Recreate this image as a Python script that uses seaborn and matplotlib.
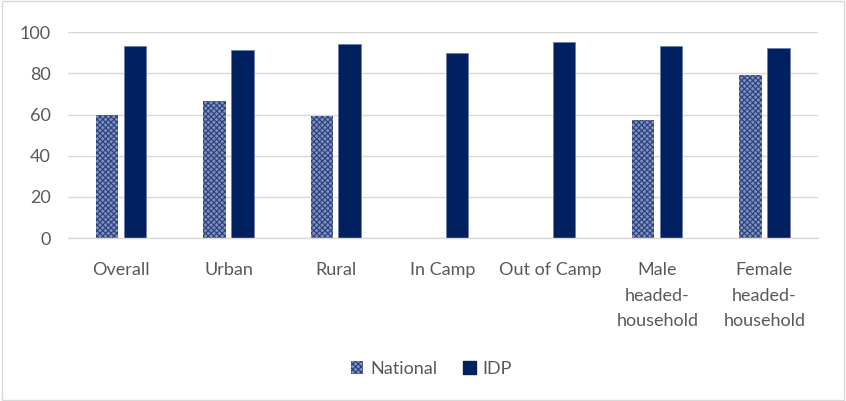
import matplotlib
matplotlib.use("Agg")
import matplotlib.pyplot as plt
import seaborn as sns
import pandas as pd
import numpy as np
from matplotlib.patches import Rectangle

categories = ["Overall", "Urban", "Rural", "In Camp", "Out of Camp",
              "Male\nheaded-\nhousehold", "Female\nheaded-\nhousehold"]
national = [60, 66.7, 59.3, np.nan, np.nan, 57.3, 79.2]
idp = [93.4, 91.5, 94.3, 90, 95.2, 93.2, 92.1]
series = ["National", "IDP"]

df = pd.DataFrame({
    "category": categories * 2,
    "value": national + idp,
    "series": ["National"] * len(categories) + ["IDP"] * len(categories),
})

sns.set_theme(style="white")
plt.rcParams["font.family"] = ["Lato", "DejaVu Sans"]
plt.rcParams["hatch.linewidth"] = 0.8

fig = plt.figure(figsize=(8.46, 4.01), dpi=100)
ax = fig.add_axes([0.080, 0.406, 0.887, 0.514])

navy = "#002060"
nat_face = "#7f8fb8"
sns.barplot(data=df, x="category", y="value", hue="series", order=categories,
            hue_order=series, palette=[nat_face, navy], width=0.52, gap=0.2,
            ax=ax, legend=False, saturation=1)

for p in ax.patches:
    fc = p.get_facecolor()
    if abs(fc[0] - matplotlib.colors.to_rgb(nat_face)[0]) < 0.02:
        p.set_hatch("xxxxxx")
        p.set_edgecolor("#2a4180")
        p.set_linewidth(0)
    else:
        p.set_edgecolor("#6f7fa8")
        p.set_linewidth(0.6)

ax.set_ylim(0, 100)
ax.set_yticks([0, 20, 40, 60, 80, 100])
ax.grid(axis="y", color="#d9d9d9", linewidth=1)
ax.set_axisbelow(True)
for s in ["top", "right", "left"]:
    ax.spines[s].set_visible(False)
ax.spines["bottom"].set_color("#d9d9d9")
ax.spines["bottom"].set_linewidth(1)
ax.set_xlabel("")
ax.set_ylabel("")
ax.tick_params(axis="both", length=0, labelsize=13, colors="#595959")
ax.tick_params(axis="x", pad=17)
ax.tick_params(axis="y", pad=12)
for t in ax.get_xticklabels():
    t.set_linespacing(1.75)
ax.set_xlim(-0.5, len(categories) - 0.5)

h1 = Rectangle((0, 0), 1, 1, facecolor=nat_face, hatch="xxxxxx", edgecolor="#2a4180", linewidth=0)
h2 = Rectangle((0, 0), 1, 1, facecolor=navy, edgecolor=navy)
fig.legend([h1, h2], series, loc="center", bbox_to_anchor=(0.51, 0.08), ncol=2,
           frameon=False, fontsize=13, handlelength=0.7, handleheight=0.7,
           handletextpad=0.4, columnspacing=1.4, labelcolor="#595959")

fig.add_artist(Rectangle((0.002, 0.003), 0.996, 0.994, transform=fig.transFigure,
                         fill=False, edgecolor="#d9d9d9", linewidth=1))

fig.savefig("out.png", dpi=100)
